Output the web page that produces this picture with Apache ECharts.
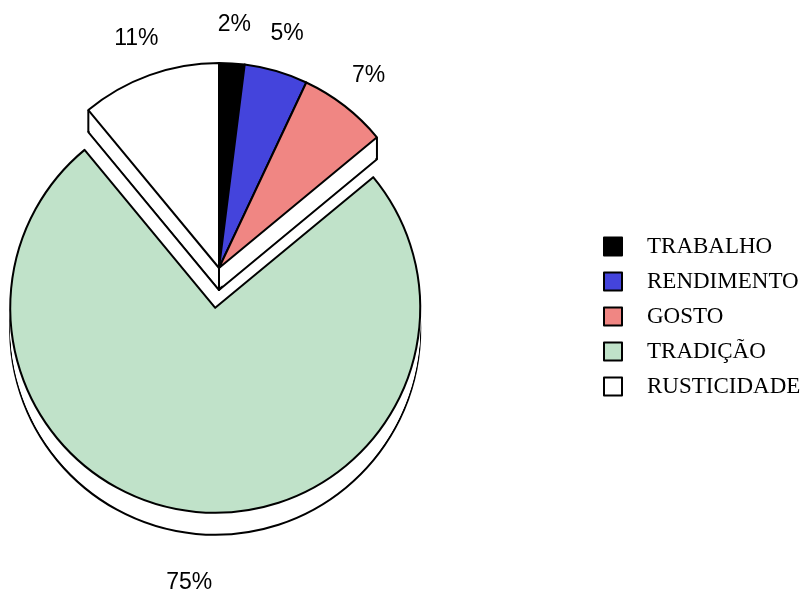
<!DOCTYPE html>
<html>
<head>
<meta charset="utf-8">
<script src="https://cdn.jsdelivr.net/npm/echarts@6/dist/echarts.min.js"></script>
<style>
  html, body { margin: 0; padding: 0; background: #fff; }
  #chart { width: 808px; height: 590px; }
</style>
</head>
<body>
<div id="chart"></div>
<script>
// Motivos de escolha — shares in percent
const categories = ['TRABALHO', 'RENDIMENTO', 'GOSTO', 'TRADIÇÃO', 'RUSTICIDADE'];
const shares = [2, 5, 7, 75, 11];
const sliceColors = ['#000000', '#4444dc', '#f08683', '#c0e2c9', '#ffffff'];
const explodedName = 'TRADIÇÃO';

// Pie geometry
const CX = 219, CY = 268, R = 205;
const DEPTH = 22;          // height of the extruded side walls
const EXPLODE = 40;        // how far the exploded slice is pulled out
const LABEL_R = [225, 257];
const LABEL_EXPLODE = 72;

const chart = echarts.init(document.getElementById('chart'), null, { renderer: 'canvas' });

function buildData(styleFn) {
  return categories.map((name, i) => ({
    name: name,
    value: shares[i],
    selected: name === explodedName,
    itemStyle: styleFn(i)
  }));
}

const baseSeries = {
  type: 'pie',
  startAngle: 90,
  clockwise: true,
  selectedMode: 'single',
  selectedOffset: EXPLODE,
  avoidLabelOverlap: false,
  silent: true,
  label: { show: false },
  labelLine: { show: false },
  emphasis: { disabled: true }
};

const series = [];

// Top faces (first so the legend takes its colours from here)
series.push(Object.assign({}, baseSeries, {
  name: 'faces',
  z: 5,
  center: [CX, CY],
  radius: [0, R],
  data: buildData(i => ({ color: sliceColors[i], borderColor: '#000', borderWidth: 2 }))
}));

// Side walls: a bordered bottom copy plus plain white fill between it and the faces
series.push(Object.assign({}, baseSeries, {
  name: 'depth-bottom',
  z: 2,
  center: [CX, CY + DEPTH],
  radius: [0, R],
  data: buildData(() => ({ color: '#ffffff', borderColor: '#000', borderWidth: 2 }))
}));
for (let k = DEPTH - 2; k >= 1; k--) {
  series.push(Object.assign({}, baseSeries, {
    name: 'depth-' + k,
    z: 3,
    center: [CX, CY + k],
    radius: [0, R],
    data: buildData(() => ({ color: '#ffffff', borderWidth: 0 }))
  }));
}

// Percentage labels on a transparent ring around the pie
series.push(Object.assign({}, baseSeries, {
  name: 'labels',
  z: 6,
  center: [CX, CY],
  radius: LABEL_R,
  selectedOffset: LABEL_EXPLODE,
  label: {
    show: true,
    position: 'inside',
    formatter: '{c}%',
    fontFamily: 'Liberation Sans, Arial, sans-serif',
    fontSize: 23,
    color: '#000'
  },
  data: buildData(() => ({ color: 'rgba(0,0,0,0)', borderWidth: 0 }))
}));

// Vertical edges of the walls where the exploded slice leaves its neighbours
const total = shares.reduce((a, b) => a + b, 0);
const idx = categories.indexOf(explodedName);
const before = shares.slice(0, idx).reduce((a, b) => a + b, 0);
const after = before + shares[idx];
function rim(frac) {
  const a = frac * 2 * Math.PI;
  return [CX + R * Math.sin(a), CY - R * Math.cos(a)];
}
const edgePoints = [rim(before / total), rim(after / total), [CX, CY]];
const graphic = edgePoints.map(p => ({
  type: 'line',
  z: 10,
  silent: true,
  shape: { x1: p[0], y1: p[1], x2: p[0], y2: p[1] + DEPTH },
  style: { stroke: '#000', lineWidth: 2 }
}));

chart.setOption({
  animation: false,
  backgroundColor: '#ffffff',
  legend: {
    data: categories,
    orient: 'vertical',
    left: 603,
    top: 235,
    padding: 0,
    itemWidth: 18,
    itemHeight: 18,
    itemGap: 12,
    icon: 'rect',
    selectedMode: false,
    itemStyle: { borderColor: '#000', borderWidth: 2 },
    textStyle: {
      fontFamily: 'Liberation Serif, Times New Roman, serif',
      fontSize: 23,
      color: '#000',
      lineHeight: 23,
      padding: [0, 0, 0, 20]
    }
  },
  graphic: graphic,
  series: series
});
</script>
</body>
</html>
